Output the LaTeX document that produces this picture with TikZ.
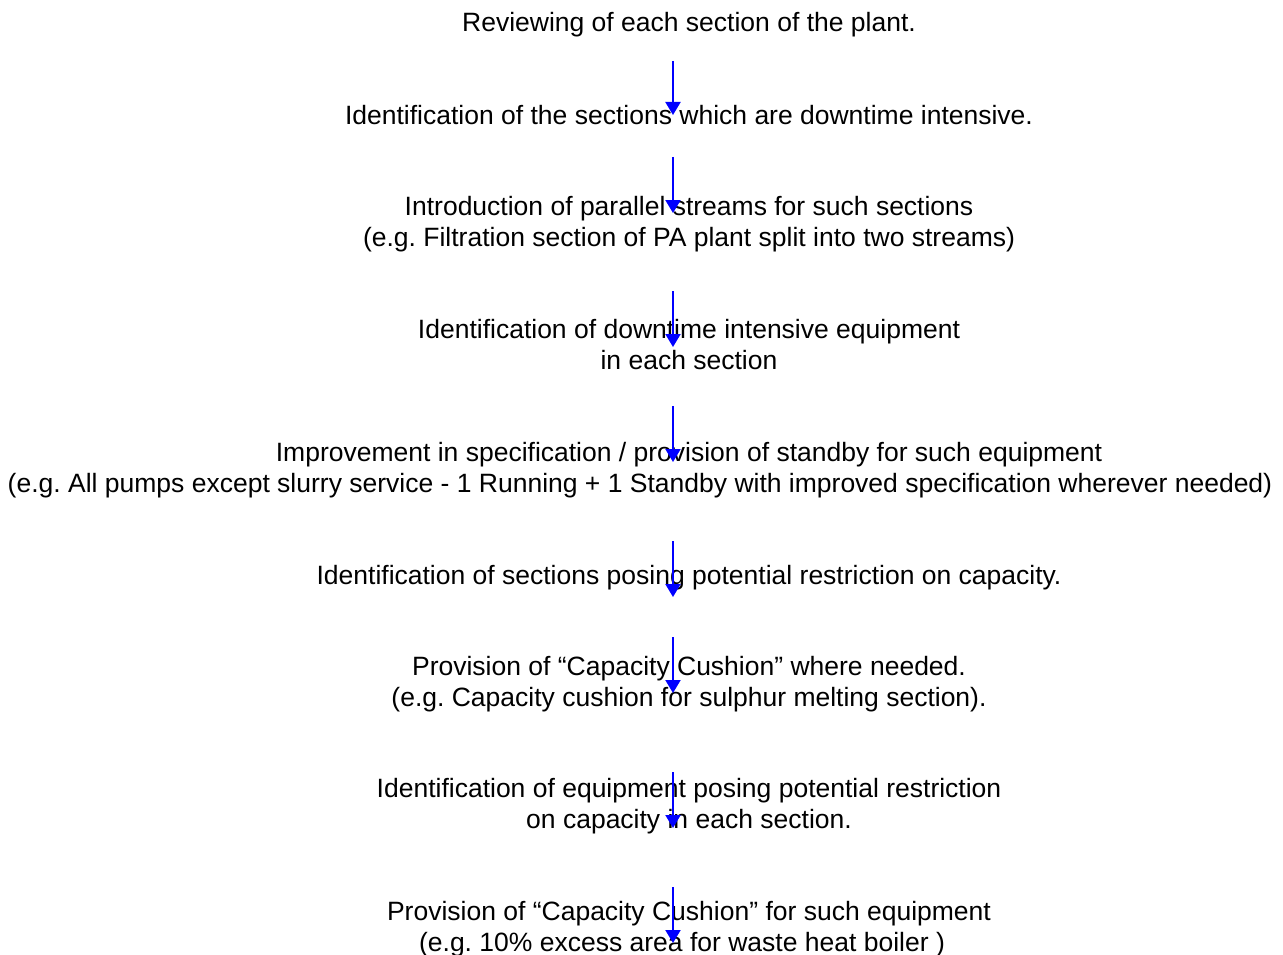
\documentclass[tikz,border=0pt]{standalone}
\usepackage{fontspec}
\setmainfont{Liberation Sans}
\usetikzlibrary{arrows.meta}
\frenchspacing

\begin{document}
\begin{tikzpicture}[x=1pt,y=1pt,
			stage/.style={anchor=base, align=center, inner sep=0pt, font=\fontsize{26.5}{31}\selectfont},
			flow/.style={draw=blue, line width=2pt, -{Triangle[width=15pt,length=13pt]}}
				]
			\useasboundingbox (0,0) rectangle (1283,-955);
			\def\cx{689}
			\def\ax{-16pt}
			% base of each node = baseline of its last line
			\node[stage] at (\cx,-31.5) (s1) {Reviewing of each section of the plant.};
			\node[stage] at (\cx,-124.5) (s2) {Identification of the sections which are downtime intensive.};
			\node[stage] at (\cx,-246.7) (s3) {Introduction of parallel streams for such sections\\(e.g. Filtration section of PA plant split into two streams)};
			\node[stage] at (\cx,-369.3) (s4) {Identification of downtime intensive equipment\\in each section};
			\node[stage] at (\cx,-492.5) (s5) {Improvement in specification / provision of standby for such equipment\\\hspace*{-98pt}(e.g. All pumps except slurry service - 1 Running + 1 Standby with improved specification wherever needed)};
			\node[stage] at (\cx,-584.3) (s6) {Identification of sections posing potential restriction on capacity.};
			\node[stage] at (\cx,-706.7) (s7) {Provision of “Capacity Cushion” where needed.\\(e.g. Capacity cushion for sulphur melting section).};
			\node[stage] at (\cx,-828.5) (s8) {Identification of equipment posing potential restriction\\on capacity in each section.};
			\node[stage] at (\cx,-951.5) (s9) {Provision of “Capacity Cushion” for such equipment\\(e.g. 10\% excess area for waste heat boiler )\hspace*{14pt}};

			% arrows between the stages
			\foreach \i/\j/\u/\v in {1/2/-29.5/9.5, 2/3/-32.5/33.7, 3/4/-44.3/22.3, 4/5/-36.7/30.5,
				5/6/-48.5/-12.7, 6/7/-52.7/13.7, 7/8/-65.3/0.5, 8/9/-58.5/8.5}
				\draw[flow] ([xshift=\ax,yshift=\u]s\i.base) -- ([xshift=\ax,yshift=\v]s\j.base);
	\end{tikzpicture}
\end{document}
